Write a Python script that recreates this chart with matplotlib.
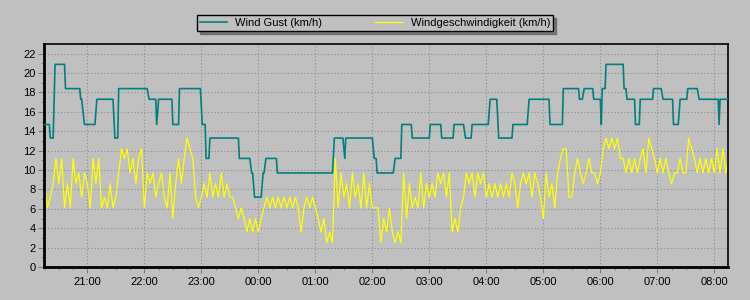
import numpy as np
from matplotlib import pyplot as plt

# Daten: Minuten seit 20:00
gust_start = [15, 21, 26, 37, 53, 57, 70, 89, 93, 125, 133, 135, 150, 157, 181, 185, 189, 220, 233, 236,
              245, 248, 260, 320, 331, 332, 362, 365, 384, 391, 402, 421, 433, 446, 458, 465, 484, 493, 508, 525,
              547, 561, 578, 583, 593, 601, 602, 606, 625, 628, 637, 642, 656, 666, 677, 684, 692, 704, 725, 726]
gust_end = [20, 24, 36, 52, 54, 68, 87, 92, 123, 132, 133, 149, 156, 179, 184, 188, 219, 231, 234, 243,
            246, 259, 318, 329, 331, 360, 364, 382, 390, 401, 420, 432, 445, 456, 464, 482, 491, 507, 523, 546,
            560, 577, 581, 592, 600, 601, 605, 624, 627, 636, 641, 655, 664, 676, 682, 691, 702, 724, 725, 735]
gust_val = [14.7, 13.3, 20.9, 18.4, 17.3, 14.7, 17.3, 13.3, 18.4, 17.3, 14.7, 17.3, 14.7, 18.4, 14.7, 11.2, 13.3, 11.2, 9.7, 7.2,
            9.7, 11.2, 9.7, 13.3, 11.2, 13.3, 11.2, 9.7, 11.2, 14.7, 13.3, 14.7, 13.3, 14.7, 13.3, 14.7, 17.3, 13.3, 14.7, 17.3,
            14.7, 18.4, 17.3, 18.4, 17.3, 14.7, 18.4, 20.9, 18.4, 17.3, 14.7, 17.3, 18.4, 17.3, 14.7, 17.3, 18.4, 17.3, 14.7, 17.3]

# Windgeschwindigkeit alle 3 Minuten ab 20:15
wind_start = 15
wind_step = 3
wind_val = [
    8.6, 6.1, 7.2, 8.6, 11.2, 8.6, 11.2, 6.1, 8.6, 6.1, 11.2, 8.6, 9.7, 7.2, 9.7,
    8.6, 6.1, 11.2, 8.6, 11.2, 6.1, 7.2, 6.1, 8.6, 6.1, 7.2, 9.7, 12.2, 11.2, 12.2, 9.7, 11.2, 8.6, 11.2, 12.2,
    6.1, 9.7, 8.6, 9.7, 7.2, 8.6, 9.7, 7.2, 6.1, 9.7, 5.0, 8.6, 11.2, 8.6, 11.2, 13.3, 12.2, 11.2, 7.2, 6.1,
    7.2, 8.6, 7.2, 9.7, 7.2, 8.6, 7.2, 9.7, 7.2, 8.6, 7.2, 7.2, 6.1, 5.0, 6.1, 5.0, 3.6, 5.0, 3.6, 5.0,
    3.6, 5.0, 6.1, 7.2, 6.1, 7.2, 6.1, 7.2, 6.1, 7.2, 6.1, 7.2, 6.1, 7.2, 6.1, 3.6, 6.1, 7.2, 6.1, 7.2,
    6.1, 5.0, 3.6, 5.0, 2.5, 3.6, 2.5, 11.2, 6.1, 9.7, 7.2, 8.6, 6.1, 9.7, 7.2, 8.6, 6.1, 9.7, 6.1, 8.6,
    6.1, 6.1, 6.1, 2.5, 5.0, 3.6, 6.1, 3.6, 2.5, 3.6, 2.5, 9.7, 5.0, 8.6, 6.1, 7.2, 6.1, 9.7, 6.1, 8.6,
    7.2, 8.6, 7.2, 9.7, 8.6, 9.7, 7.2, 9.7, 3.6, 5.0, 3.6, 6.1, 7.2, 9.7, 8.6, 9.7, 7.2, 9.7, 8.6, 9.7,
    7.2, 8.6, 7.2, 8.6, 7.2, 8.6, 7.2, 8.6, 7.2, 9.7, 8.6, 6.1, 8.6, 9.7, 8.6, 9.7, 7.2, 9.7, 8.6, 7.2,
    5.0, 9.7, 7.2, 8.6, 6.1, 9.7, 11.2, 12.2, 12.2, 7.2, 7.2, 9.7, 11.2, 9.7, 8.6, 9.7, 11.2, 9.7, 9.7, 8.6,
    9.7, 12.2, 13.3, 12.2, 13.3, 12.2, 13.3, 11.2, 11.2, 9.7, 11.2, 9.7, 11.2, 9.7, 11.2, 12.2, 9.7, 13.3, 12.2, 11.2,
    9.7, 11.2, 9.7, 11.2, 9.7, 8.6, 9.7, 9.7, 11.2, 9.7, 9.7, 13.3, 12.2, 11.2, 9.7, 11.2, 9.7, 11.2, 9.7, 11.2,
    9.7, 12.2, 9.7, 12.2, 9.7, 11.2]

hour_labels = ['21:00', '22:00', '23:00', '00:00', '01:00', '02:00',
               '03:00', '04:00', '05:00', '06:00', '07:00', '08:00']

gust_t = []
gust_y = []
for s, e, v in zip(gust_start, gust_end, gust_val):
    gust_t += [s, e]
    gust_y += [v, v]

wind_t = wind_start + wind_step * np.arange(len(wind_val))

bg = '#c0c0c0'
plt.rcParams['font.family'] = ['Liberation Sans', 'DejaVu Sans']

fig = plt.figure(figsize=(7.5, 3), dpi=100, facecolor=bg)
ax = fig.add_axes([0.0587, 0.11, 0.912, 0.7433], facecolor=bg)

ax.plot(gust_t, gust_y, color='#008080', lw=1.2, label='Wind Gust (km/h)', zorder=3)
ax.plot(wind_t, wind_val, color='#ffff00', lw=0.9, label='Windgeschwindigkeit (km/h)', zorder=2)

ax.set_xlim(14.4, 734.4)
ax.set_ylim(0, 23)
ax.set_yticks(np.arange(0, 23, 2))
ax.set_yticks(np.arange(0, 23, 1), minor=True)
ax.set_xticks(np.arange(60, 721, 60))
ax.set_xticklabels(hour_labels)
ax.set_xticks(np.arange(15, 735, 15), minor=True)

ax.grid(True, which='major', color='#8c8c8c', linestyle=(0, (1, 2)), linewidth=0.8)
ax.tick_params(which='both', direction='out', color='#808080', labelsize=8, pad=2)
ax.tick_params(which='major', length=4)
ax.tick_params(which='minor', length=2.5)
ax.tick_params(axis='x', pad=3)

for sp in ['left', 'bottom']:
    ax.spines[sp].set_linewidth(2)
for sp in ['top', 'right']:
    ax.spines[sp].set_linewidth(1.2)

leg = fig.legend(loc='center', bbox_to_anchor=(0.5, 0.923), ncol=2, fontsize=8,
                 frameon=True, fancybox=False, shadow=True, facecolor=bg, edgecolor='black',
                 handlelength=2.5, handletextpad=0.7, columnspacing=4.8, borderpad=0.25,
                 borderaxespad=0)
leg.get_frame().set_linewidth(1.0)

plt.savefig('out.png', dpi=100, facecolor=bg)
